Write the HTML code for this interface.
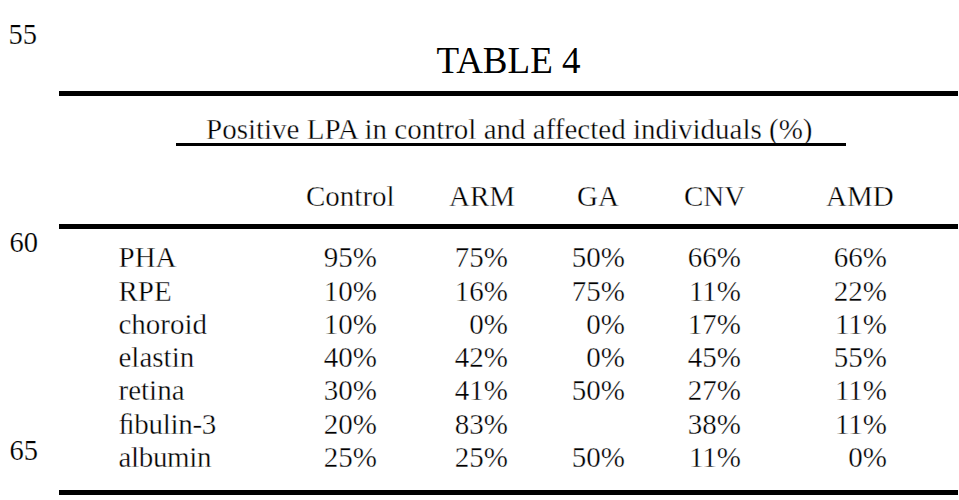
<!DOCTYPE html>
<html><head><meta charset="utf-8"><style>
html,body{margin:0;padding:0;background:#fff;}
body{width:959px;height:500px;position:relative;overflow:hidden;font-family:"Liberation Serif",serif;color:#000;}
.t{position:absolute;white-space:nowrap;line-height:normal;-webkit-text-stroke:0.35px #fff;}
.rule{position:absolute;background:#000;}
</style></head><body>
<div class="t" style="left:8.5px;top:18.61px;font-size:28.5px;-webkit-text-stroke:0.2px #fff">55</div>
<div class="t" style="left:9.5px;top:226.61px;font-size:28.5px;-webkit-text-stroke:0.2px #fff">60</div>
<div class="t" style="left:9.5px;top:434.61px;font-size:28.5px;-webkit-text-stroke:0.2px #fff">65</div>
<div class="t" style="left:436.5px;top:39.03px;font-size:37px;-webkit-text-stroke:0">TABLE 4</div>
<div class="t" style="left:206px;top:113.16px;font-size:29px;">Positive LPA in control and affected individuals (%)</div>
<div class="t" style="left:306px;top:180.16px;font-size:29px;">Control</div>
<div class="t" style="left:449px;top:180.16px;font-size:29px;">ARM</div>
<div class="t" style="left:577px;top:180.16px;font-size:29px;">GA</div>
<div class="t" style="left:684px;top:180.16px;font-size:29px;">CNV</div>
<div class="t" style="left:826px;top:180.16px;font-size:29px;">AMD</div>
<div class="t" style="left:118.5px;top:241.16px;font-size:29px;">PHA</div>
<div class="t r" style="right:582px;top:241.16px;font-size:29px">95%</div>
<div class="t r" style="right:451px;top:241.16px;font-size:29px">75%</div>
<div class="t r" style="right:334px;top:241.16px;font-size:29px">50%</div>
<div class="t r" style="right:218px;top:241.16px;font-size:29px">66%</div>
<div class="t r" style="right:72px;top:241.16px;font-size:29px">66%</div>
<div class="t" style="left:118.5px;top:275.16px;font-size:29px;">RPE</div>
<div class="t r" style="right:582px;top:275.16px;font-size:29px">10%</div>
<div class="t r" style="right:451px;top:275.16px;font-size:29px">16%</div>
<div class="t r" style="right:334px;top:275.16px;font-size:29px">75%</div>
<div class="t r" style="right:218px;top:275.16px;font-size:29px">11%</div>
<div class="t r" style="right:72px;top:275.16px;font-size:29px">22%</div>
<div class="t" style="left:118.5px;top:307.83px;font-size:29px;">choroid</div>
<div class="t r" style="right:582px;top:307.83px;font-size:29px">10%</div>
<div class="t r" style="right:451px;top:307.83px;font-size:29px">0%</div>
<div class="t r" style="right:334px;top:307.83px;font-size:29px">0%</div>
<div class="t r" style="right:218px;top:307.83px;font-size:29px">17%</div>
<div class="t r" style="right:72px;top:307.83px;font-size:29px">11%</div>
<div class="t" style="left:118.5px;top:341.16px;font-size:29px;">elastin</div>
<div class="t r" style="right:582px;top:341.16px;font-size:29px">40%</div>
<div class="t r" style="right:451px;top:341.16px;font-size:29px">42%</div>
<div class="t r" style="right:334px;top:341.16px;font-size:29px">0%</div>
<div class="t r" style="right:218px;top:341.16px;font-size:29px">45%</div>
<div class="t r" style="right:72px;top:341.16px;font-size:29px">55%</div>
<div class="t" style="left:118.5px;top:374.49px;font-size:29px;">retina</div>
<div class="t r" style="right:582px;top:374.49px;font-size:29px">30%</div>
<div class="t r" style="right:451px;top:374.49px;font-size:29px">41%</div>
<div class="t r" style="right:334px;top:374.49px;font-size:29px">50%</div>
<div class="t r" style="right:218px;top:374.49px;font-size:29px">27%</div>
<div class="t r" style="right:72px;top:374.49px;font-size:29px">11%</div>
<div class="t" style="left:118.5px;top:407.83px;font-size:29px;letter-spacing:-0.29px">ﬁbulin-3</div>
<div class="t r" style="right:582px;top:407.83px;font-size:29px">20%</div>
<div class="t r" style="right:451px;top:407.83px;font-size:29px">83%</div>
<div class="t r" style="right:218px;top:407.83px;font-size:29px">38%</div>
<div class="t r" style="right:72px;top:407.83px;font-size:29px">11%</div>
<div class="t" style="left:118.5px;top:441.16px;font-size:29px;letter-spacing:-0.33px">albumin</div>
<div class="t r" style="right:582px;top:441.16px;font-size:29px">25%</div>
<div class="t r" style="right:451px;top:441.16px;font-size:29px">25%</div>
<div class="t r" style="right:334px;top:441.16px;font-size:29px">50%</div>
<div class="t r" style="right:218px;top:441.16px;font-size:29px">11%</div>
<div class="t r" style="right:72px;top:441.16px;font-size:29px">0%</div>
<div class="rule" style="left:59px;top:91px;width:899px;height:5px"></div>
<div class="rule" style="left:59px;top:224px;width:899px;height:5px"></div>
<div class="rule" style="left:59px;top:490px;width:899px;height:5px"></div>
<div class="rule" style="left:176px;top:143px;width:670px;height:3px"></div>
</body></html>
